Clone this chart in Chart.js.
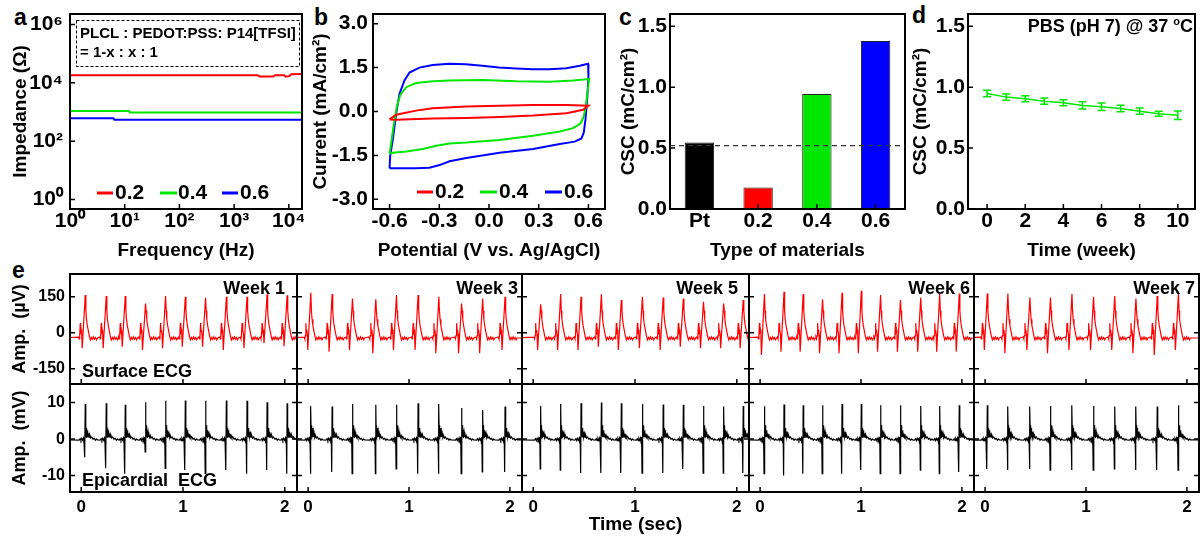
<!DOCTYPE html>
<html lang="en">
<head>
<meta charset="utf-8">
<title>PLCL / PEDOT:PSS / P14[TFSI] electrodes</title>
<script src="https://cdn.jsdelivr.net/npm/chart.js@4.4.1/dist/chart.umd.min.js"></script>
<style>
  html, body { margin: 0; padding: 0; background: #fff; }
  #fig { position: relative; width: 1202px; height: 538px; overflow: hidden; background: #fff; }
  #fig canvas { position: absolute; }
  .tag { position: absolute; font: bold 23px "Liberation Sans", Arial, sans-serif; color: #000; line-height: 1; }
</style>
</head>
<body>
<div id="fig">
  <div class="tag" style="left:14px;top:6px">a</div>
  <div class="tag" style="left:314px;top:6px">b</div>
  <div class="tag" style="left:619px;top:6px">c</div>
  <div class="tag" style="left:912px;top:4px">d</div>
  <div class="tag" style="left:12px;top:259px">e</div>
</div>
<script>
// ---------------- (a) impedance vs frequency ----------------
const impFreq02 = [1, 100, 2700, 2900, 5200, 5600, 8300, 8700, 10200, 11000, 17400];
const impZ02    = [18300, 18300, 18300, 16500, 16500, 18200, 18200, 16200, 17000, 19600, 20200];
const impFreq04 = [1, 12, 12.5, 17400];
const impZ04    = [1090, 1090, 960, 960];
const impFreq06 = [1, 6.2, 6.5, 17400];
const impZ06    = [615, 615, 540, 540];
const freqTicks = [1, 10, 100, 1000, 10000];
const impTicks  = [1, 100, 10000, 1000000];

// ---------------- (b) cyclic voltammograms ----------------
const cvV02 = [-0.6, -0.56, -0.44, -0.34, -0.137, 0.064, 0.266, 0.467, 0.6, 0.568, 0.467, 0.266, 0.064, -0.137, -0.34, -0.56, -0.6];
const cvI02 = [-0.27, -0.11, 0.03, 0.11, 0.17, 0.2, 0.22, 0.22, 0.2, 0.06, -0.06, -0.14, -0.19, -0.22, -0.24, -0.28, -0.27];
const cvV04 = [-0.6, -0.59, -0.576, -0.556, -0.536, -0.5, -0.44, -0.338, -0.238, -0.036, 0.165, 0.366, 0.507, 0.604, 0.596, 0.584, 0.572, 0.552, 0.507, 0.427, 0.266, 0.064, -0.137, -0.238, -0.318, -0.399, -0.5, -0.58, -0.6];
const cvI04 = [-1.44, -1.06, -0.5, 0.17, 0.56, 0.83, 0.97, 1.03, 1.06, 1.08, 1.03, 1.02, 1.06, 1.11, 0.72, 0.17, -0.17, -0.41, -0.57, -0.68, -0.83, -0.97, -1.06, -1.09, -1.17, -1.28, -1.37, -1.41, -1.44];
const cvV06 = [-0.6, -0.596, -0.58, -0.56, -0.54, -0.51, -0.48, -0.42, -0.34, -0.24, -0.14, -0.04, 0.06, 0.165, 0.266, 0.366, 0.467, 0.548, 0.598, 0.6, 0.592, 0.582, 0.572, 0.558, 0.517, 0.427, 0.266, 0.064, -0.137, -0.238, -0.298, -0.36, -0.44, -0.54, -0.6];
const cvI06 = [-1.94, -1.5, -0.94, -0.06, 0.61, 1.06, 1.33, 1.5, 1.59, 1.63, 1.61, 1.56, 1.5, 1.47, 1.44, 1.44, 1.48, 1.56, 1.63, 1.17, 0.39, -0.28, -0.72, -0.92, -1.03, -1.11, -1.28, -1.41, -1.59, -1.7, -1.83, -1.92, -1.94, -1.94, -1.94];
const potentialTicks = [-0.6, -0.3, 0, 0.3, 0.6];
const currentTicks   = [-3, -1.5, 0, 1.5, 3];

// ---------------- (c) charge storage capacity by material ----------------
const materials   = ['Pt', '0.2', '0.4', '0.6'];
const cscValues   = [0.546, 0.176, 0.944, 1.379];
const ptReference = 0.52;
const cscTicks    = [0, 0.5, 1, 1.5];

// ---------------- (d) CSC stability in PBS ----------------
const weeks      = [0, 1, 2, 3, 4, 5, 6, 7, 8, 9, 10];
const cscWeekly  = [0.948, 0.918, 0.905, 0.885, 0.872, 0.85, 0.839, 0.825, 0.803, 0.782, 0.77];
const cscErr     = [0.027, 0.025, 0.025, 0.025, 0.025, 0.03, 0.03, 0.027, 0.025, 0.02, 0.035];
const weekTicks  = [0, 2, 4, 6, 8, 10];

// ---------------- (e) ECG recordings ----------------
const weekLabels = ['Week 1', 'Week 3', 'Week 5', 'Week 6', 'Week 7'];
// R-peak times (s) for each recording window
const beatTimes = [
  [0.04, 0.246, 0.433, 0.632, 0.829, 1.023, 1.222, 1.426, 1.629, 1.826, 2.023],
  [0.027, 0.238, 0.44, 0.671, 0.876, 1.09, 1.296, 1.521, 1.73, 1.952],
  [0.073, 0.27, 0.47, 0.67, 0.866, 1.073, 1.277, 1.475, 1.673, 1.871, 2.063],
  [0.043, 0.237, 0.427, 0.619, 0.812, 1.003, 1.194, 1.391, 1.592, 1.78, 1.974],
  [0.022, 0.226, 0.444, 0.648, 0.861, 1.075, 1.285, 1.495, 1.706, 1.916]
];
// surface ECG: R-peak and pre-R dip amplitudes (µV)
const surfacePeaks = [
  [157, 153, 153, 122, 153, 150, 146, 150, 150, 160, 156],
  [167, 161, 143, 139, 157, 157, 150, 122, 143, 150],
  [119, 161, 150, 160, 136, 150, 147, 143, 129, 122, 136],
  [161, 171, 161, 139, 167, 175, 157, 136, 147, 161, 164],
  [164, 164, 147, 147, 161, 150, 153, 143, 153, 164]
];
const surfaceDips = [
  [-65, -65, -58, -72, -65, -58, -58, -72, -65, -44, -56],
  [-72, -79, -72, -86, -72, -72, -86, -86, -86, -72],
  [-72, -72, -72, -58, -72, -65, -72, -58, -65, -65, -65],
  [-93, -79, -79, -86, -86, -86, -79, -79, -79, -79, -79],
  [-72, -86, -72, -86, -72, -72, -72, -86, -93, -72]
];
// epicardial ECG: positive and negative spike amplitudes (mV)
const epiPeaks = [
  [9.6, 9.8, 9.4, 10.1, 10.5, 10.6, 10.5, 10.6, 10.5, 10.1, 9.8],
  [9.1, 8.9, 9.6, 9.4, 9.4, 9.8, 9.6, 8.5, 8.0, 8.9],
  [9.1, 9.6, 9.8, 10.0, 9.8, 9.6, 9.5, 9.4, 9.1, 8.9, 9.1],
  [9.0, 9.5, 9.3, 9.3, 9.6, 9.6, 9.3, 9.3, 9.1, 9.1, 9.3],
  [9.3, 8.9, 8.9, 9.1, 9.3, 9.1, 8.9, 8.9, 8.9, 9.3]
];
const epiDips = [
  [-5, -8, -9.5, -3.5, -8, -8.5, -9.5, -8.5, -9.5, -8.5, -9.5],
  [-9.5, -9, -9.5, -9.5, -8.2, -9.5, -9.5, -9.5, -9, -9],
  [-8.2, -8.5, -9.3, -9.3, -9.3, -9.3, -9.3, -8.2, -9.3, -9.3, -9.3],
  [-9.5, -10, -9.5, -9.5, -9.5, -8.5, -9.5, -9.5, -8.5, -9.5, -9],
  [-8.2, -8.5, -8.2, -8.5, -8.5, -8.5, -8.2, -8.5, -8.5, -8.5]
];
// one heartbeat, [seconds from R peak, value]; R and the dip are added per beat
const SURFACE_WAVE = [[-0.066, -18], [-0.06, -26], [-0.055, -12], [-0.049, 40], [-0.045, 4], [-0.04, 12], [-0.035, -6],
  [0.006, 92], [0.012, 56], [0.02, 30], [0.03, 8], [0.04, -14], [0.05, -30], [0.06, -20], [0.07, -28], [0.08, -17],
  [0.09, -27], [0.1, -20], [0.11, -30], [0.12, -22]];
const SURFACE_DIP_AT = -0.03, SURFACE_BASE = -22;
const EPI_WAVE = [[-0.06, -0.3], [-0.05, 0.1], [-0.042, -0.4], [-0.034, 0.2], [-0.026, -0.3], [-0.018, 0.3], [-0.012, -1.2],
  [-0.008, 0.6], [0.004, 0.8], [0.006, 3.8], [0.009, 0.5], [0.012, 3.0], [0.015, 0.6], [0.018, 2.4], [0.021, 0.5],
  [0.025, 2.0], [0.029, 0.6], [0.034, 1.5], [0.04, 0.5], [0.046, 1.0], [0.054, 0.3], [0.064, 0.6], [0.076, 0.0],
  [0.088, 0.2], [0.1, -0.3], [0.11, 0.0], [0.12, -0.2]];
const EPI_DIP_AT = -0.004, EPI_BASE = -0.2;
const ecgTimeTicks = [0, 1, 2];
const surfaceTicks = [-150, 0, 150];
const epiTicks = [-10, 0, 10];
const weekLabelRight = [285, 518, 738, 970, 1195];

// ---------------- drawing helpers ----------------
const RED = '#ff0000', GREEN = '#00e600', BLUE = '#0000ff';
const FONT = '"Liberation Sans", Arial, Helvetica, sans-serif';
Chart.defaults.font.family = FONT;
Chart.defaults.font.weight = 'bold';
Chart.defaults.color = '#000';
Chart.defaults.animation = false;
Chart.defaults.responsive = false;
Chart.defaults.plugins.legend.display = false;
Chart.defaults.plugins.tooltip.enabled = false;
Chart.defaults.elements.point.radius = 0;
Chart.defaults.elements.point.hoverRadius = 0;
Chart.defaults.elements.line.tension = 0;

const SUP = { 0: '\u2070', 1: '\u00b9', 2: '\u00b2', 3: '\u00b3', 4: '\u2074', 5: '\u2075', 6: '\u2076' };
const pow10 = v => '10' + SUP[Math.round(Math.log10(v))];
const fixed1 = v => Number(v).toFixed(1);
const plain = v => String(v);
const pairs = (xs, ys) => xs.map((x, i) => ({ x, y: ys[i] }));

function buildTrace(wave, beats, peaks, dips, dipAt, base) {
  const pts = [{ x: -0.2, y: base }];
  beats.forEach((tb, i) => {
    const seg = wave.map(([dt, v]) => ({ x: tb + dt, y: v }));
    seg.push({ x: tb + dipAt, y: dips[i] }, { x: tb, y: peaks[i] });
    seg.sort((a, b) => a.x - b.x);
    pts.push(...seg);
  });
  pts.push({ x: 2.3, y: base });
  return pts;
}

const FIG = document.getElementById('fig');
function makePanel(box, plot) {
  const cv = document.createElement('canvas');
  cv.width = box[2] - box[0];
  cv.height = box[3] - box[1];
  cv.style.left = box[0] + 'px';
  cv.style.top = box[1] + 'px';
  FIG.appendChild(cv);
  return { cv, ox: box[0], oy: box[1], yWidth: plot[0] - box[0], xHeight: box[3] - plot[3],
           padTop: plot[1] - box[1], padRight: box[2] - plot[2] };
}

function axis(p, which, o) {
  const horiz = which === 'x';
  const s = {
    type: o.type || 'linear',
    position: horiz ? 'bottom' : 'left',
    grid: { display: false, drawTicks: false },
    border: { display: false },
    ticks: { display: o.showTicks !== false, font: { size: o.size || 21, weight: 'bold' }, color: '#000',
             padding: o.pad !== undefined ? o.pad : 0, maxRotation: 0, minRotation: 0, autoSkip: false,
             callback: o.fmt || plain },
    title: o.title ? { display: true, text: o.title, color: '#000', font: { size: o.titleSize || 19, weight: 'bold' },
             padding: horiz ? { top: 0, bottom: o.titlePad || 0 } : { top: o.titlePad || 0, bottom: 0 } }
           : { display: false },
    // fixed axis band; labels may overhang the frame ends
    afterFit: horiz
      ? (sc => { sc.height = p.xHeight; sc.paddingLeft = 0; sc.paddingRight = 0; })
      : (sc => { sc.width = p.yWidth; sc.paddingTop = 0; sc.paddingBottom = 0; })
  };
  if (o.min !== undefined) s.min = o.min;
  if (o.max !== undefined) s.max = o.max;
  if (o.tickValues) s.afterBuildTicks = sc => { sc.ticks = o.tickValues.map(v => ({ value: v })); };
  return s;
}
const pad = p => ({ padding: { top: p.padTop, right: p.padRight, left: 0, bottom: 0 } });

// frame round the plotting area with inward tick marks
const framePlugin = {
  id: 'frame',
  afterDatasetsDraw(chart, _args, o) {
    const { ctx, chartArea: a } = chart;
    const xs = chart.scales.x, ys = chart.scales.y;
    const sides = o.sides || ['bottom', 'left'];
    const len = o.len || 5;
    ctx.save();
    ctx.strokeStyle = '#000';
    ctx.lineWidth = 1.5;
    ctx.beginPath();
    xs.ticks.forEach((t, i) => {
      const px = xs.getPixelForTick(i);
      if (sides.includes('bottom')) { ctx.moveTo(px, a.bottom); ctx.lineTo(px, a.bottom - len); }
    });
    ys.ticks.forEach((t, i) => {
      const py = ys.getPixelForTick(i);
      if (sides.includes('left')) { ctx.moveTo(a.left, py); ctx.lineTo(a.left + len, py); }
      if (sides.includes('right')) { ctx.moveTo(a.right, py); ctx.lineTo(a.right - len, py); }
    });
    ctx.stroke();
    ctx.lineWidth = o.width || 2;
    ctx.strokeRect(a.left, a.top, a.right - a.left, a.bottom - a.top);
    ctx.restore();
  }
};

// free text (with optional superscript parts) and dashed boxes, placed in page pixels
const notesPlugin = {
  id: 'notes',
  afterDraw(chart, _args, o) {
    const ctx = chart.ctx, ox = o.ox || 0, oy = o.oy || 0;
    ctx.save();
    (o.boxes || []).forEach(b => {
      ctx.setLineDash([3, 2]);
      ctx.lineWidth = 1;
      ctx.strokeStyle = '#000';
      ctx.strokeRect(b.x0 - ox + 0.5, b.y0 - oy + 0.5, b.x1 - b.x0, b.y1 - b.y0);
    });
    ctx.setLineDash([]);
    ctx.fillStyle = '#000';
    ctx.textBaseline = 'middle';
    ctx.textAlign = 'left';
    (o.items || []).forEach(it => {
      const size = it.size || 18;
      const parts = it.parts || [{ t: it.text }];
      const fontFor = sp => `bold ${sp ? Math.round(size * 0.62) : size}px ${FONT}`;
      let total = 0;
      parts.forEach(pt => { ctx.font = fontFor(pt.sup); total += ctx.measureText(pt.t).width; });
      let x = it.x - ox;
      const y = it.y - oy;
      if (it.align === 'right') x -= total; else if (it.align === 'center') x -= total / 2;
      parts.forEach(pt => {
        ctx.font = fontFor(pt.sup);
        ctx.fillText(pt.t, x, pt.sup ? y - size * 0.3 : y);
        x += ctx.measureText(pt.t).width;
      });
    });
    ctx.restore();
  }
};

// series key drawn inside the plot: line swatch + dataset label
const keyPlugin = {
  id: 'seriesKey',
  afterDraw(chart, _args, o) {
    if (!o.entries) return;
    const ctx = chart.ctx, ox = o.ox || 0, oy = o.oy || 0;
    ctx.save();
    ctx.font = `bold ${o.size || 21}px ${FONT}`;
    ctx.textBaseline = 'middle';
    ctx.textAlign = 'left';
    ctx.fillStyle = '#000';
    chart.data.datasets.forEach((ds, i) => {
      const e = o.entries[i];
      if (!e) return;
      const y = o.y - oy;
      ctx.strokeStyle = ds.borderColor;
      ctx.lineWidth = 3;
      ctx.beginPath(); ctx.moveTo(e[0] - ox, y); ctx.lineTo(e[1] - ox, y); ctx.stroke();
      ctx.fillText(ds.label, e[2] - ox, y);
    });
    ctx.restore();
  }
};

// dashed horizontal reference at a data value
const refLinePlugin = {
  id: 'refLine',
  afterDatasetsDraw(chart, _args, o) {
    if (o.value === undefined) return;
    const { ctx, chartArea: a } = chart;
    const py = chart.scales.y.getPixelForValue(o.value);
    ctx.save();
    ctx.setLineDash([5, 4]);
    ctx.strokeStyle = '#333';
    ctx.lineWidth = 1.3;
    ctx.beginPath(); ctx.moveTo(a.left, py); ctx.lineTo(a.right, py); ctx.stroke();
    ctx.restore();
  }
};

// vertical error bars from dataset.errors
const errorBarPlugin = {
  id: 'errorBars',
  afterDatasetsDraw(chart) {
    const ctx = chart.ctx;
    chart.data.datasets.forEach((ds, i) => {
      if (!ds.errors) return;
      const meta = chart.getDatasetMeta(i);
      const xs = chart.scales[meta.xAxisID], ys = chart.scales[meta.yAxisID];
      ctx.save();
      ctx.strokeStyle = ds.borderColor;
      ctx.lineWidth = 1.5;
      ctx.beginPath();
      ds.data.forEach((d, j) => {
        const px = xs.getPixelForValue(d.x);
        const hi = ys.getPixelForValue(d.y + ds.errors[j]);
        const lo = ys.getPixelForValue(d.y - ds.errors[j]);
        ctx.moveTo(px, hi); ctx.lineTo(px, lo);
        ctx.moveTo(px - 4, hi); ctx.lineTo(px + 4, hi);
        ctx.moveTo(px - 4, lo); ctx.lineTo(px + 4, lo);
      });
      ctx.stroke();
      ctx.restore();
    });
  }
};
Chart.register(framePlugin, notesPlugin, keyPlugin, refLinePlugin, errorBarPlugin);

// ---------------- (a) ----------------
const pa = makePanel([0, 0, 304, 265], [70, 14, 302, 209]);
new Chart(pa.cv, {
  type: 'line',
  data: { datasets: [
    { label: '0.2', data: pairs(impFreq02, impZ02), borderColor: RED, borderWidth: 2 },
    { label: '0.4', data: pairs(impFreq04, impZ04), borderColor: GREEN, borderWidth: 2 },
    { label: '0.6', data: pairs(impFreq06, impZ06), borderColor: BLUE, borderWidth: 2 }
  ] },
  options: {
    layout: pad(pa),
    scales: {
      x: axis(pa, 'x', { type: 'logarithmic', min: 1, max: 17400, tickValues: freqTicks, fmt: pow10, title: 'Frequency (Hz)', titlePad: 3 }),
      y: axis(pa, 'y', { type: 'logarithmic', min: 0.47, max: 2300000, tickValues: impTicks, fmt: pow10, pad: 7, title: 'Impedance (\u03a9)', titlePad: 9 })
    },
    plugins: {
      frame: { sides: ['bottom', 'left'] },
      seriesKey: { ox: pa.ox, oy: pa.oy, y: 193, size: 21, entries: [[97, 113, 115], [160, 177, 178], [222, 238, 240]] },
      notes: { ox: pa.ox, oy: pa.oy,
        boxes: [{ x0: 76, y0: 20, x1: 299, y1: 66 }],
        items: [
          { text: 'PLCL : PEDOT:PSS: P14[TFSI]', x: 80, y: 34, size: 15 },
          { text: '= 1-x : x : 1', x: 80, y: 53, size: 15 }
        ] }
    }
  }
});

// ---------------- (b) ----------------
const pb = makePanel([300, 0, 609, 265], [373, 14, 605, 209]);
new Chart(pb.cv, {
  type: 'line',
  data: { datasets: [
    { label: '0.2', data: pairs(cvV02, cvI02), borderColor: RED, borderWidth: 2 },
    { label: '0.4', data: pairs(cvV04, cvI04), borderColor: GREEN, borderWidth: 2 },
    { label: '0.6', data: pairs(cvV06, cvI06), borderColor: BLUE, borderWidth: 2 }
  ] },
  options: {
    layout: pad(pb),
    scales: {
      x: axis(pb, 'x', { min: -0.7, max: 0.7, tickValues: potentialTicks, fmt: fixed1, title: 'Potential (V vs. Ag/AgCl)', titlePad: 3 }),
      y: axis(pb, 'y', { min: -3.33, max: 3.33, tickValues: currentTicks, fmt: fixed1, pad: 5, title: 'Current (mA/cm\u00b2)', titlePad: 9 })
    },
    plugins: {
      frame: { sides: ['bottom', 'left'] },
      seriesKey: { ox: pb.ox, oy: pb.oy, y: 192, size: 21, entries: [[417, 433, 435], [480, 497, 499], [545, 562, 564]] }
    }
  }
});

// ---------------- (c) ----------------
const pc = makePanel([604, 0, 908, 265], [670, 14, 905, 209]);
new Chart(pc.cv, {
  type: 'bar',
  data: { labels: materials, datasets: [{
    data: cscValues,
    backgroundColor: ['#000000', RED, GREEN, BLUE],
    borderColor: '#222', borderWidth: 1,
    barPercentage: 0.5, categoryPercentage: 1
  }] },
  options: {
    layout: pad(pc),
    scales: {
      x: axis(pc, 'x', { type: 'category', fmt: v => materials[v], title: 'Type of materials', titlePad: 3 }),
      y: axis(pc, 'y', { min: 0, max: 1.6, tickValues: cscTicks, fmt: fixed1, pad: 3, title: 'CSC (mC/cm\u00b2)', titlePad: 13 })
    },
    plugins: {
      frame: { sides: ['bottom', 'left'] },
      refLine: { value: ptReference }
    }
  }
});

// ---------------- (d) ----------------
const pd = makePanel([900, 0, 1202, 265], [968, 14, 1195, 209]);
new Chart(pd.cv, {
  type: 'line',
  data: { datasets: [{
    label: 'CSC', data: pairs(weeks, cscWeekly), errors: cscErr,
    borderColor: GREEN, borderWidth: 1.5
  }] },
  options: {
    layout: pad(pd),
    scales: {
      x: axis(pd, 'x', { min: -1, max: 10.9, tickValues: weekTicks, title: 'Time (week)', titlePad: 3 }),
      y: axis(pd, 'y', { min: 0, max: 1.6, tickValues: cscTicks, fmt: fixed1, pad: 3, title: 'CSC (mC/cm\u00b2)', titlePad: 9 })
    },
    plugins: {
      frame: { sides: ['bottom', 'left'] },
      notes: { ox: pd.ox, oy: pd.oy, items: [
        { parts: [{ t: 'PBS (pH 7) @ 37 ' }, { t: 'o', sup: true }, { t: 'C' }], x: 1193, y: 27, size: 18, align: 'right' }
      ] }
    }
  }
});

// ---------------- (e) ----------------
const ecgCols = [[70, 297], [297, 522], [522, 749], [749, 974], [974, 1199]];
weekLabels.forEach((wk, k) => {
  const [l, r] = ecgCols[k];
  const first = k === 0;
  const x0 = first ? 0 : l - 2;

  const top = makePanel([x0, 262, r + 2, 386], [l, 274, r, 384]);
  const topNotes = [{ text: wk, x: weekLabelRight[k], y: 289, size: 18, align: 'right' }];
  if (first) topNotes.push({ text: 'Surface ECG', x: 82, y: 372, size: 18 });
  new Chart(top.cv, {
    type: 'line',
    data: { datasets: [{ data: buildTrace(SURFACE_WAVE, beatTimes[k], surfacePeaks[k], surfaceDips[k], SURFACE_DIP_AT, SURFACE_BASE),
                         borderColor: RED, borderWidth: 1.2 }] },
    options: {
      layout: pad(top),
      scales: {
        x: axis(top, 'x', { min: -0.11, max: 2.12, tickValues: ecgTimeTicks, showTicks: false }),
        y: axis(top, 'y', { min: -214, max: 245, tickValues: surfaceTicks, showTicks: first, size: 16, pad: 5,
                            title: first ? 'Amp.  (\u00b5V)' : null, titleSize: 18, titlePad: 9 })
      },
      plugins: {
        frame: { sides: ['bottom', 'left', 'right'] },
        notes: { ox: top.ox, oy: top.oy, items: topNotes }
      }
    }
  });

  const bot = makePanel([x0, 382, r + 2, 538], [l, 384, r, 492]);
  const botNotes = first ? [{ text: 'Epicardial  ECG', x: 82, y: 481, size: 18 }] : [];
  new Chart(bot.cv, {
    type: 'line',
    data: { datasets: [{ data: buildTrace(EPI_WAVE, beatTimes[k], epiPeaks[k], epiDips[k], EPI_DIP_AT, EPI_BASE),
                         borderColor: '#000', borderWidth: 1.2 }] },
    options: {
      layout: pad(bot),
      scales: {
        x: axis(bot, 'x', { min: -0.11, max: 2.12, tickValues: ecgTimeTicks, size: 17, pad: 5,
                            title: k === 2 ? 'Time (sec)' : null, titleSize: 19, titlePad: 2 }),
        y: axis(bot, 'y', { min: -14.5, max: 15.1, tickValues: epiTicks, showTicks: first, size: 16, pad: 5,
                            title: first ? 'Amp.  (mV)' : null, titleSize: 18, titlePad: 9 })
      },
      plugins: {
        frame: { sides: ['bottom', 'left', 'right'] },
        notes: { ox: bot.ox, oy: bot.oy, items: botNotes }
      }
    }
  });
});
</script>
</body>
</html>
